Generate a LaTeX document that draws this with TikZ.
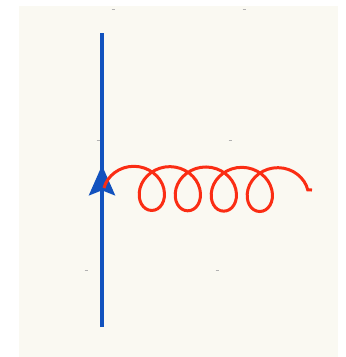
\documentclass[tikz,border=0pt]{standalone}
\usetikzlibrary{arrows.meta,decorations.pathmorphing,decorations.markings}
\definecolor{papel}{RGB}{250,249,242}
\definecolor{quarkblue}{RGB}{18,82,190}
\definecolor{gluonred}{RGB}{250,45,20}

\begin{document}
\begin{tikzpicture}[x=1pt, y=-1pt,
                    >={Stealth[length=30pt,width=26pt,inset=5pt]},
                    quark/.style={quarkblue, line width=4pt},
                    gluon/.style={gluonred, line width=3pt,
                      decorate, decoration={coil, amplitude=22pt,
                      segment length=36pt, aspect=0.95}},
                    punto/.style={gray!60, line width=0.8pt}]

    % ==========================================================
    % fondo
    % ==========================================================
    \useasboundingbox (0,0) rectangle (346,357);
    \fill[papel] (19,6) rectangle (338,357);

    % marcas de la rejilla
    \foreach \x/\y in {113/9, 244/9, 98/140, 230/140, 86/270, 217/270} {
        \draw[punto] (\x-1.5,\y) -- (\x+1.5,\y);
    }

    % ==========================================================
    % vertice quark-gluon
    % ==========================================================
    \coordinate (qbot) at (102,327);
    \coordinate (qtop) at (102,33);
    \coordinate (vtx)  at (104,188);
    \coordinate (gend) at (312,190);

    % linea del quark
    \draw[quark, postaction={decorate, decoration={markings,
            mark=at position 0.55 with {\arrow{>}}}}] (qbot) -- (qtop);

    % gluon
    \draw[gluon] (vtx) -- (gend);

\end{tikzpicture}
\end{document}
